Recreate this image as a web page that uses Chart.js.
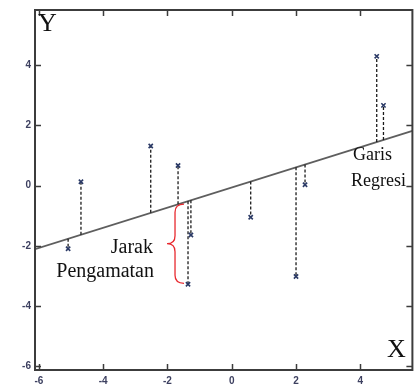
<!DOCTYPE html>
<html>
<head>
<meta charset="utf-8">
<script src="https://cdn.jsdelivr.net/npm/chart.js@4.4.1/dist/chart.umd.min.js"></script>
<style>
  html, body { margin: 0; padding: 0; background: #ffffff; }
  #wrap { width: 418px; height: 391px; position: relative; }
</style>
</head>
<body>
<div id="wrap"><canvas id="c" width="418" height="391"></canvas></div>
<script>
// Observations (x, y)
const obsX = [-5.09, -4.69, -2.52, -1.67, -1.27, -1.36, 0.59, 2.00, 2.28, 4.51, 4.72];
const obsY = [-2.10,  0.13,  1.32,  0.67, -1.64, -3.28, -1.05, -3.02, 0.03, 4.30, 2.67];

// Fitted regression line y = a + b x
const regIntercept = -0.06;
const regSlope = 0.335;

// Axis limits and tick values
const xLimits = [-6.12, 5.62];
const yLimits = [-6.13, 5.84];
const xTicks = [-6, -4, -2, 0, 2, 4];
const yTicks = [-6, -4, -2, 0, 2, 4];

// Index of the observation whose residual is marked with a brace
const braceIndex = 5;

const fitted = x => regIntercept + regSlope * x;

const regLine = xLimits.map(x => ({ x: x, y: fitted(x) }));
const residuals = [];
obsX.forEach((x, i) => {
  residuals.push({ x: x, y: fitted(x) });
  residuals.push({ x: x, y: obsY[i] });
  residuals.push({ x: x, y: null });
});
const points = obsX.map((x, i) => ({ x: x, y: obsY[i] }));

const INK = '#3c3c3c';

// Frame with inward ticks on all four sides, brace and text annotations
const decor = {
  id: 'decor',
  afterDatasetsDraw(chart) {
    const ctx = chart.ctx;
    const a = chart.chartArea;
    const xs = chart.scales.x, ys = chart.scales.y;
    ctx.save();

    // frame
    ctx.strokeStyle = INK;
    ctx.lineWidth = 2;
    ctx.strokeRect(a.left, a.top, a.right - a.left, a.bottom - a.top);

    // inward ticks
    const tl = 6;
    ctx.lineWidth = 1.5;
    ctx.beginPath();
    xTicks.forEach(v => {
      const px = Math.round(xs.getPixelForValue(v)) + 0.5;
      ctx.moveTo(px, a.bottom); ctx.lineTo(px, a.bottom - tl);
      ctx.moveTo(px, a.top); ctx.lineTo(px, a.top + tl);
    });
    yTicks.forEach(v => {
      const py = Math.round(ys.getPixelForValue(v)) + 0.5;
      ctx.moveTo(a.left, py); ctx.lineTo(a.left + tl, py);
      ctx.moveTo(a.right, py); ctx.lineTo(a.right - tl, py);
    });
    ctx.stroke();

    // curly brace beside the marked residual
    const bx = xs.getPixelForValue(obsX[braceIndex]);
    const top = ys.getPixelForValue(fitted(obsX[braceIndex])) + 3;
    const bot = ys.getPixelForValue(obsY[braceIndex]) - 1;
    const mid = (top + bot) / 2;
    const end = bx - 4, spine = bx - 13, tip = bx - 21, r = 8;
    ctx.strokeStyle = '#e8292f';
    ctx.lineWidth = 1.3;
    ctx.beginPath();
    ctx.moveTo(end, top);
    ctx.quadraticCurveTo(spine, top, spine, top + r);
    ctx.lineTo(spine, mid - r);
    ctx.quadraticCurveTo(spine, mid, tip, mid);
    ctx.quadraticCurveTo(spine, mid, spine, mid + r);
    ctx.lineTo(spine, bot - r);
    ctx.quadraticCurveTo(spine, bot, end, bot);
    ctx.stroke();

    // text labels
    ctx.fillStyle = '#111111';
    ctx.textBaseline = 'alphabetic';
    ctx.font = '26px "Liberation Serif", "Times New Roman", serif';
    ctx.textAlign = 'left';
    ctx.fillText('Y', 38, 31);
    ctx.fillText('X', 387, 357);

    ctx.font = '18px "Liberation Serif", "Times New Roman", serif';
    ctx.fillText('Garis', 353, 160);
    ctx.fillText('Regresi', 351, 186);

    ctx.font = '20px "Liberation Serif", "Times New Roman", serif';
    ctx.textAlign = 'right';
    ctx.fillText('Jarak', 153, 253);
    ctx.fillText('Pengamatan', 154, 277);

    ctx.restore();
  }
};

new Chart(document.getElementById('c'), {
  type: 'scatter',
  data: {
    datasets: [
      {
        label: 'regresi',
        data: regLine,
        showLine: true,
        borderColor: '#5e5e5e',
        borderWidth: 1.8,
        pointRadius: 0,
        order: 3
      },
      {
        label: 'jarak',
        data: residuals,
        showLine: true,
        spanGaps: false,
        borderColor: '#1a1a1a',
        borderWidth: 1.3,
        borderDash: [3, 2],
        pointRadius: 0,
        order: 2
      },
      {
        label: 'pengamatan',
        data: points,
        pointStyle: 'crossRot',
        pointRadius: 3,
        borderColor: '#2b3a66',
        borderWidth: 1.6,
        order: 1
      }
    ]
  },
  options: {
    responsive: false,
    animation: false,
    layout: { padding: { top: 5, right: 3, left: 0, bottom: 0 } },
    plugins: {
      legend: { display: false },
      tooltip: { enabled: false }
    },
    scales: {
      x: {
        type: 'linear',
        min: xLimits[0],
        max: xLimits[1],
        grid: { display: false, drawTicks: false },
        border: { display: false },
        afterBuildTicks: s => { s.ticks = xTicks.map(v => ({ value: v })); },
        afterFit: s => { s.height = 21; },
        ticks: {
          padding: 5,
          color: '#3d4060',
          font: { family: 'Arial, "Liberation Sans", sans-serif', size: 10, weight: 'bold' },
          maxRotation: 0
        }
      },
      y: {
        type: 'linear',
        min: yLimits[0],
        max: yLimits[1],
        grid: { display: false, drawTicks: false },
        border: { display: false },
        afterBuildTicks: s => { s.ticks = yTicks.map(v => ({ value: v })); },
        afterFit: s => { s.width = 35; },
        ticks: {
          padding: 4,
          color: '#3d4060',
          font: { family: 'Arial, "Liberation Sans", sans-serif', size: 10, weight: 'bold' }
        }
      }
    }
  },
  plugins: [decor]
});
</script>
</body>
</html>
